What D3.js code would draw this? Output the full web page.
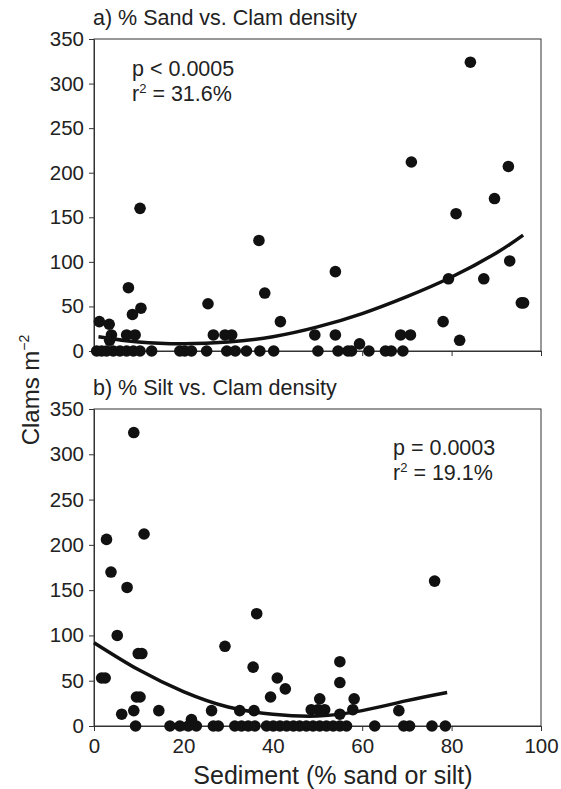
<!DOCTYPE html>
<html>
<head>
<meta charset="utf-8">
<script src="https://cdn.jsdelivr.net/npm/d3@7/dist/d3.min.js"></script>
<style>
  body { margin: 0; background: #fff; }
  text { font-family: "Liberation Sans", Arial, Helvetica, sans-serif; fill: #222; }
</style>
</head>
<body>
<script>

// panel a: % sand vs clam density
var sandX = [10.3, 7.7, 8.6, 10.5, 1.2, 3.4, 3.9, 7.3, 9.2, 3.5,
             25.5, 36.9, 38.2, 41.7, 26.7, 29.3, 30.8, 49.4,
             84.2, 71, 92.7, 89.6, 81, 54, 79.3, 87.2, 93, 95.6, 96.1, 78.1, 81.8, 54, 68.6, 70.8, 59.4,
             0.6, 1.7, 2.8, 4.3, 5.8, 7.3, 8.8, 10.3, 12.9, 19.2, 20.3, 21.8, 25.2, 29.7, 31.6, 34.1,
             37.1, 40.2, 50.1, 54.6, 56.8, 57.6, 61.5, 65.2, 66.5, 69.1];
var sandY = [160, 71, 41, 48, 33, 30, 18, 18, 18, 12,
             53, 124, 65, 33, 18, 18, 18, 18,
             324, 212, 207, 171, 154, 89, 81, 81, 101, 54, 54, 33, 12, 18, 18, 18, 8,
             0, 0, 0, 0, 0, 0, 0, 0, 0, 0, 0, 0, 0, 0, 0, 0,
             0, 0, 0, 0, 0, 0, 0, 0, 0, 0];
// fitted curve
var sandFitX = [1, 10, 20, 30, 40, 50, 60, 70, 80, 90, 96];
var sandFitY = [16, 10, 8, 10, 16, 27, 42, 61, 83, 110, 130];

// panel b: % silt vs clam density
var siltX = [8.9, 2.8, 11.2, 3.8, 7.4, 5.2, 9.9, 10.7, 1.7, 2.5, 9.5, 10.3, 6.2, 8.9, 14.5,
             29.3, 36.4, 35.6, 41, 42.8, 39.5, 26.3, 32.6, 35.8, 48.6, 50.5, 21.8,
             76.2, 55, 55, 58.2, 50.1, 51.6, 55, 57.9, 68.2,
             9.3, 17, 19.2, 21.1, 22.9, 26.7, 27.8, 31.5, 33, 34.5, 36, 38.6, 40.1, 41.6, 43.1,
             44.6, 46, 47.5, 49, 50.5, 52, 53.5, 55, 56.5, 62.8, 69.3, 70.6, 75.6, 78.6];
var siltY = [324, 206, 212, 170, 153, 100, 80, 80, 53, 53, 32, 32, 13, 17, 17,
             88, 124, 65, 53, 41, 32, 17, 17, 17, 18, 30, 7,
             160, 71, 48, 30, 18, 18, 13, 18, 17,
             0, 0, 0, 0, 0, 0, 0, 0, 0, 0, 0, 0, 0, 0, 0,
             0, 0, 0, 0, 0, 0, 0, 0, 0, 0, 0, 0, 0, 0, 0];
var siltFitX = [0, 10, 20, 30, 40, 50, 60, 70, 79];
var siltFitY = [92, 62, 38, 21, 13, 11, 17, 28, 37];

var yTicks = [0, 50, 100, 150, 200, 250, 300, 350];
var xTicks = [0, 20, 40, 60, 80, 100];

var width = 561,
    height = 789;

var svg = d3.select('body')
  .append('svg')
  .attr('width', width)
  .attr('height', height);

var x = d3.scaleLinear().domain([0, 100]).range([94, 541]);

var panels = [
  {title: 'a) % Sand vs. Clam density', xs: sandX, ys: sandY, fx: sandFitX, fy: sandFitY,
   top: 39, bottom: 351, labels: false,
   stats: ['p < 0.0005', '31.6%'], sx: 132, sy: 76},
  {title: 'b) % Silt vs. Clam density', xs: siltX, ys: siltY, fx: siltFitX, fy: siltFitY,
   top: 409, bottom: 726, labels: true,
   stats: ['p = 0.0003', '19.1%'], sx: 393, sy: 455}
];

panels.forEach(function(p) {
  var y = d3.scaleLinear().domain([0, 350]).range([p.bottom, p.top]);
  var g = svg.append('g');

  // frame
  g.append('rect')
    .attr('x', x(0)).attr('y', y(350))
    .attr('width', x(100) - x(0)).attr('height', y(0) - y(350))
    .attr('fill', 'none').attr('stroke', '#333').attr('stroke-width', 1);

  var yAxis = g.append('g')
    .attr('transform', 'translate(' + x(0) + ',0)')
    .call(d3.axisLeft(y).tickValues(yTicks).tickSize(5).tickPadding(5).tickSizeOuter(0));
  yAxis.select('.domain').attr('stroke', '#333');
  yAxis.selectAll('line').attr('stroke', '#333');
  yAxis.selectAll('text').attr('font-size', 20.5).attr('fill', '#222');

  var xAxis = g.append('g')
    .attr('transform', 'translate(0,' + y(0) + ')')
    .call(d3.axisBottom(x).tickValues(xTicks).tickSize(5).tickPadding(7).tickSizeOuter(0)
      .tickFormat(p.labels ? d3.format('d') : ''));
  xAxis.select('.domain').attr('stroke', '#333');
  xAxis.selectAll('line').attr('stroke', '#333');
  xAxis.selectAll('text').attr('font-size', 20.5).attr('fill', '#222');

  // title
  g.append('text')
    .attr('x', 93).attr('y', p.top - 14)
    .attr('font-size', 21.5)
    .text(p.title);

  // stats
  g.append('text')
    .attr('x', p.sx).attr('y', p.sy)
    .attr('font-size', 21.5)
    .text(p.stats[0]);
  var r2 = g.append('text')
    .attr('x', p.sx).attr('y', p.sy + 25)
    .attr('font-size', 21.5);
  r2.append('tspan').text('r');
  r2.append('tspan').attr('font-size', 13).attr('dy', -8).text('2');
  r2.append('tspan').attr('dy', 8).text(' = ' + p.stats[1]);

  // points
  g.selectAll('circle')
    .data(p.xs.map(function(v, i) { return [v, p.ys[i]]; }))
    .enter()
    .append('circle')
    .attr('cx', function(d) { return x(d[0]); })
    .attr('cy', function(d) { return y(d[1]); })
    .attr('r', 5.8)
    .attr('fill', '#111');

  // fitted curve
  var line = d3.line()
    .x(function(d) { return x(d[0]); })
    .y(function(d) { return y(d[1]); })
    .curve(d3.curveNatural);
  g.append('path')
    .datum(p.fx.map(function(v, i) { return [v, p.fy[i]]; }))
    .attr('d', line)
    .attr('fill', 'none')
    .attr('stroke', '#111')
    .attr('stroke-width', 3.5);
});

// axis titles
svg.append('text')
  .attr('x', 333).attr('y', 784)
  .attr('text-anchor', 'middle')
  .attr('font-size', 25)
  .text('Sediment (% sand or silt)');

var yl = svg.append('text')
  .attr('transform', 'translate(39,390) rotate(-90)')
  .attr('text-anchor', 'middle')
  .attr('font-size', 24);
yl.append('tspan').text('Clams m');
yl.append('tspan').attr('font-size', 14).attr('dy', -10).text('\u22122');

</script>
</body>
</html>
